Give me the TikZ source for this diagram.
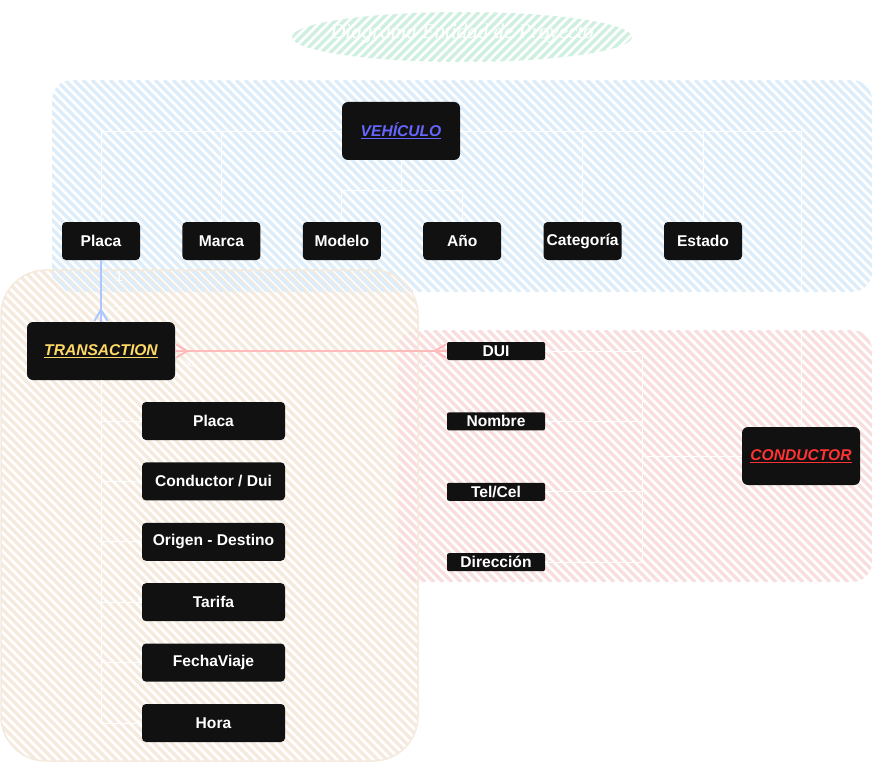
\documentclass[tikz,border=0pt]{standalone}
\usepackage{fontspec}
\setmainfont{Liberation Sans}
\newfontfamily\titlefont{Liberation Serif}
\usetikzlibrary{arrows.meta, positioning}

\definecolor{boxfill}{HTML}{111111}
\definecolor{vehblue}{HTML}{6666FF}
\definecolor{transyellow}{HTML}{FFD966}
\definecolor{condred}{HTML}{FF3333}
\definecolor{hatchblue}{HTML}{DDEDF9}
\definecolor{hatchbeige}{HTML}{F4EADD}
\definecolor{hatchpink}{HTML}{F9DEDE}
\definecolor{hatchgreen}{HTML}{CFF0E0}
\definecolor{relblue}{HTML}{AEC6FF}
\definecolor{relred}{HTML}{FFBABA}

% hatched zone: colour, x1, y1, x2, y2, corner radius
\newcommand{\hatchzone}[6]{%
  \begin{scope}
    \clip[rounded corners=#6] (#2,#3) rectangle (#4,#5);
    \pgfmathsetmacro\hstart{#2-(#5-#3)}
    \pgfmathsetmacro\hnext{\hstart+9}
    \foreach \hx in {\hstart,\hnext,...,#4}
      \draw[#1, line width=3.3pt] (\hx,#3) -- ++(#5-#3,#5-#3);
  \end{scope}}

\tikzset{
  entity/.style={fill=boxfill, rounded corners=6pt, minimum width=118pt, minimum height=58pt, inner sep=0pt},
  attr/.style={fill=boxfill, text=white, rounded corners=4pt, minimum width=78pt, minimum height=38pt, inner sep=0pt},
  tattr/.style={attr, minimum width=143pt},
  cattr/.style={attr, rounded corners=2pt, minimum width=98pt, minimum height=18pt},
  link/.style={draw=white, line width=0.8pt, -{Straight Barb[length=3pt,width=6pt]}},
  rel/.style={draw=#1, line width=2.2pt},
  crow/.tip={Straight Barb[reversed, length=11pt, width=13pt, line width=2pt]},
  card/.style={text=white, font=\fontsize{14}{16}\selectfont}
}

\begin{document}
\begin{tikzpicture}[x=1pt, y=-1pt, font=\fontsize{15.6}{18}\selectfont\bfseries]
\useasboundingbox[fill=white] (0,0) rectangle (872,762);

% zones
\hatchzone{hatchbeige}{1}{270}{418}{761}{45pt}
\hatchzone{hatchpink}{398}{330}{872}{582}{20pt}
\hatchzone{hatchblue}{52}{80}{872}{292}{20pt}
\draw[hatchbeige, line width=1.5pt, rounded corners=45pt] (1,270) rectangle (418,761);

% title
\begin{scope}
  \clip (462,37) ellipse (170 and 25);
  \foreach \hx in {240,249,...,640}
    \draw[hatchgreen, line width=3.3pt] (\hx,62) -- ++(50,-50);
\end{scope}
\node[text=white, font=\titlefont\itshape\fontsize{21}{24}\selectfont] (title) at (462,33) {Diagrama Entidad de Proyecto};

% VEHICULO
\node[entity, text=vehblue] (veh) at (401,131) {\underline{\itshape VEHÍCULO}};
\node[attr] (placa) at (101,241) {Placa};
\node[attr, right=42pt of placa] (marca) {Marca};
\node[attr, right=42pt of marca] (modelo) {Modelo};
\node[attr, right=42pt of modelo] (anio) {Año};
\node[attr, right=42pt of anio] (cat) {Categoría};
\node[attr, right=42pt of cat] (estado) {Estado};

% TRANSACTION
\node[entity, text=transyellow, minimum width=148pt] (trans) at (101,351) {\underline{\itshape TRANSACTION}};
\node[tattr] (tplaca) at (213.5,421) {Placa};
\node[tattr, below=22pt of tplaca] (tcond) {Conductor / Dui};
\node[tattr, below=22pt of tcond] (truta) {Origen - Destino};
\node[tattr, below=22pt of truta] (ttarifa) {Tarifa};
\node[tattr, below=22pt of ttarifa] (tfecha) {FechaViaje};
\node[tattr, below=22pt of tfecha] (thora) {Hora};

% CONDUCTOR
\node[entity, text=condred] (cond) at (801,456) {\underline{\itshape CONDUCTOR}};
\node[cattr] (dui) at (496,351) {DUI};
\node[cattr, below=52pt of dui] (nombre) {Nombre};
\node[cattr, below=52pt of nombre] (tel) {Tel/Cel};
\node[cattr, below=52pt of tel] (dir) {Dirección};

% attribute links
\draw[link] (veh.west) -| (placa.north);
\draw[link] (veh.west) -| (marca.north);
\draw[link] (veh.south) -- ++(0,30) -| (modelo.north);
\draw[link] (veh.south) -- ++(0,30) -| (anio.north);
\foreach \a in {cat,estado,cond}
  \draw[link] (veh.east) -| (\a.north);
\foreach \a in {tplaca,tcond,truta,ttarifa,tfecha,thora}
  \draw[link] (trans.south) |- (\a.west);
\foreach \a in {dui,nombre,tel,dir}
  \draw[link] (cond.west) -- ++(-99,0) |- (\a.east);

% relations
\draw[rel=relblue] (placa.south) -- (trans.north);
\draw[rel=relblue, -crow] (placa.south) -- (trans.north)
  node[card, pos=0.27, xshift=18pt] {1}
  node[card, pos=0.8, xshift=18pt] {$\infty$};
\draw[rel=relred] (trans.east) -- (dui.west);
\draw[rel=relred, crow-crow] (trans.east) -- (dui.west)
  node[card, pos=0.05, yshift=-13pt] {$\infty$}
  node[card, pos=0.93, yshift=-13pt] {$\infty$};
\end{tikzpicture}
\end{document}
